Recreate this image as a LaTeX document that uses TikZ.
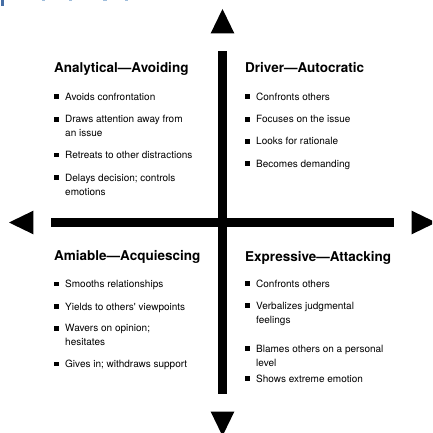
\documentclass[tikz,border=0pt]{standalone}
\usepackage{fontspec}
\setmainfont{TeX Gyre Heros}
\newfontfamily\qfont{TeX Gyre Heros}
\definecolor{topblue}{RGB}{70,110,165}
\definecolor{lightblue}{RGB}{160,190,220}
\newcommand\bitem[4]{%
  \node[bulsq] (#1b) at (#2+2.4,#3-3.3) {};
  \node[bodytxt] (#1) at (#2+11,#3) {#4};}
\newcommand\bitemtwo[5]{%
  \node[bulsq] (#1b) at (#2+2.4,#3-3.3) {};
  \node[bodytxt] (#1) at (#2+11,#3) {#4};
  \node[bodytxt] (#1c) at (#2+11,#3+14) {#5};}
\begin{document}
\begin{tikzpicture}[x=1pt,y=-1pt,
  headtxt/.style={anchor=base west, inner sep=0pt, font=\qfont\fontsize{13.5pt}{16pt}\selectfont\bfseries},
  bodytxt/.style={anchor=base west, inner sep=0pt, font=\qfont\fontsize{10pt}{12pt}\selectfont},
  bulsq/.style={fill=black, minimum size=4.8pt, inner sep=0pt},
  barfill/.style={fill=black},
  topmark/.style={fill=topblue},
  topdot/.style={fill=lightblue}]
\useasboundingbox (0,0) rectangle (432,433);
\clip (0,0) rectangle (432,433);
\fill[white] (0,0) rectangle (432,433);
% cropped marks at top edge
\fill[topmark] (1,0) rectangle (3.5,6);
\fill[topdot] (42,0) rectangle (45,1.2);
\fill[topdot] (69,0) rectangle (72,1.2);
\fill[topdot] (103,0) rectangle (107,1.2);
\fill[topdot] (125,0) rectangle (128,1.2);
% axes
\fill[barfill] (217.7,51) rectangle (227.3,393.5);
\fill[barfill] (51,218.3) rectangle (394.3,226.7);
\fill[barfill] (222.5,9) -- (234.3,33.3) -- (210.7,33.3) -- cycle;
\fill[barfill] (222.5,436) -- (234.3,411.7) -- (210.7,411.7) -- cycle;
\fill[barfill] (9,222.5) -- (33.3,210.7) -- (33.3,234.3) -- cycle;
\fill[barfill] (436,222.5) -- (411.7,210.7) -- (411.7,234.3) -- cycle;
% top left
\node[headtxt] (hA) at (54,73) {Analytical—Avoiding};
\bitem{a1}{54}{100}{Avoids confrontation}
\bitemtwo{a2}{54}{122.7}{Draws attention away from}{an issue}
\bitem{a3}{54}{158.3}{Retreats to other distractions}
\bitemtwo{a4}{54}{181}{Delays decision; controls}{emotions}
% top right
\node[headtxt] (hD) at (245,73) {Driver—Autocratic};
\bitem{d1}{245}{100}{Confronts others}
\bitem{d2}{245}{122.5}{Focuses on the issue}
\bitem{d3}{245}{144.8}{Looks for rationale}
\bitem{d4}{245}{167}{Becomes demanding}
% bottom left
\node[headtxt] (hM) at (54,260) {Amiable—Acquiescing};
\bitem{m1}{54}{287.3}{Smooths relationships}
\bitem{m2}{54}{310}{Yields to others' viewpoints}
\bitemtwo{m3}{54}{331.7}{Wavers on opinion;}{hesitates}
\bitem{m4}{54}{367.3}{Gives in; withdraws support}
% bottom right
\node[headtxt] (hE) at (245,261) {Expressive—Attacking};
\bitem{e1}{245}{287}{Confronts others}
\bitemtwo{e2}{245}{309}{Verbalizes judgmental}{feelings}
\bitemtwo{e3}{245}{352}{Blames others on a personal}{level}
\bitem{e4}{245}{382}{Shows extreme emotion}
\end{tikzpicture}
\end{document}
